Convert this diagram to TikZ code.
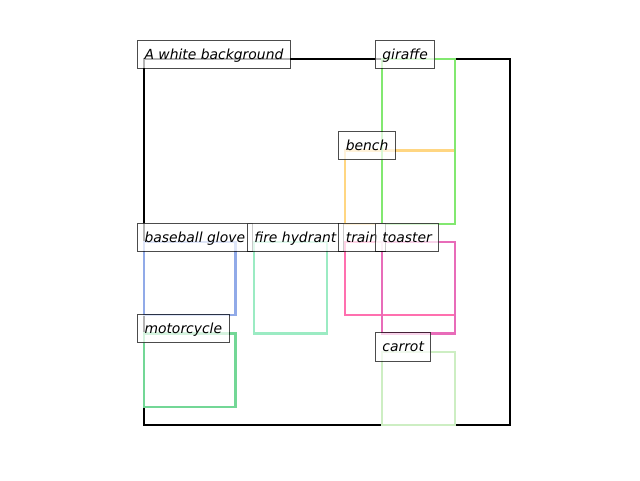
\documentclass[tikz,border=0pt]{standalone}
\usepackage{fontspec}
\setmainfont{DejaVu Sans}
\usetikzlibrary{positioning}

\definecolor{giraffecol}{RGB}{130,232,112}
\definecolor{benchcol}{RGB}{255,214,130}
\definecolor{glovecol}{RGB}{145,170,232}
\definecolor{hydrantcol}{RGB}{155,235,195}
\definecolor{traincol}{RGB}{255,112,175}
\definecolor{toastercol}{RGB}{232,108,185}
\definecolor{motorcol}{RGB}{115,215,150}
\definecolor{carrotcol}{RGB}{205,238,195}

\begin{document}
\begin{tikzpicture}[x=1pt,y=-1pt]
\tikzstyle{bbox}=[rectangle, anchor=north west, outer sep=0pt, inner sep=0pt, line width=2.3pt]
\tikzstyle{tag}=[rectangle, anchor=base west, xshift=-7pt, draw=black, draw opacity=0.7, fill=white, fill opacity=0.7, text opacity=1, line width=1pt, inner xsep=7pt, inner ysep=6pt, text height=13pt, text depth=3.3pt, font=\fontsize{13.9}{16}\selectfont\itshape]

\useasboundingbox (0,0) rectangle (640,480);

% the image frame
\node (frame) [bbox, draw=black, minimum width=366pt, minimum height=366pt] at (144,59) {};

% define the boxes
\node (bench) [bbox, draw=benchcol, minimum width=109.8pt, minimum height=73.2pt] at (345.3,150.5) {};
\node (giraffe) [bbox, draw=giraffecol, minimum width=73.2pt, minimum height=164.7pt] at (381.9,59) {};
\node (glove) [bbox, draw=glovecol, minimum width=91.5pt, minimum height=73.2pt] at (144,242) {};
\node (hydrant) [bbox, draw=hydrantcol, minimum width=73.2pt, minimum height=91.5pt] at (253.8,242) {};
\node (train) [bbox, draw=traincol, minimum width=109.8pt, minimum height=73.2pt] at (345.3,242) {};
\node (toaster) [bbox, draw=toastercol, minimum width=73.2pt, minimum height=91.5pt] at (381.9,242) {};
\node (motor) [bbox, draw=motorcol, minimum width=91.5pt, minimum height=73.2pt] at (144,333.5) {};
\node (carrot) [bbox, draw=carrotcol, minimum width=73.2pt, minimum height=73.2pt] at (381.9,351.8) {};

% define the labels
\node (framelabel) [tag] at (frame.north west) {A white background};
\node (giraffelabel) [tag] at (giraffe.north west) {giraffe};
\node (benchlabel) [tag] at (bench.north west) {bench};
\node (glovelabel) [tag] at (glove.north west) {baseball glove};
\node (hydrantlabel) [tag] at (hydrant.north west) {fire hydrant};
\node (trainlabel) [tag] at (train.north west) {train};
\node (toasterlabel) [tag] at (toaster.north west) {toaster};
\node (motorlabel) [tag] at (motor.north west) {motorcycle};
\node (carrotlabel) [tag] at (carrot.north west) {carrot};

\end{tikzpicture}
\end{document}
